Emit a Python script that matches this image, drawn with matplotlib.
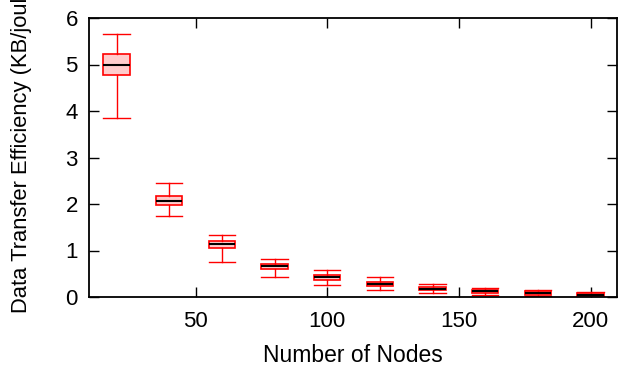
import matplotlib
matplotlib.use("Agg")
import matplotlib.pyplot as plt

# box plot stats
nodes = [20, 40, 60, 80, 100, 120, 140, 160, 180, 200]
whislo = [3.84, 1.74, 0.75, 0.44, 0.25, 0.15, 0.09, 0.04, 0.02, 0.01]
q1 = [4.77, 1.97, 1.05, 0.60, 0.36, 0.23, 0.14, 0.09, 0.04, 0.03]
med = [4.99, 2.07, 1.13, 0.66, 0.42, 0.27, 0.17, 0.12, 0.08, 0.05]
q3 = [5.22, 2.17, 1.20, 0.72, 0.47, 0.32, 0.22, 0.16, 0.12, 0.08]
whishi = [5.66, 2.45, 1.33, 0.81, 0.57, 0.42, 0.27, 0.20, 0.14, 0.11]

stats = []
for i in range(len(nodes)):
    stats.append({"whislo": whislo[i], "q1": q1[i], "med": med[i],
                  "q3": q3[i], "whishi": whishi[i], "fliers": []})

plt.rcParams["font.family"] = ["Liberation Sans", "DejaVu Sans"]

fig = plt.figure(figsize=(6.25, 3.66), dpi=100)
ax = fig.add_axes([89 / 625, 1 - 297 / 366, 528 / 625, 279 / 366])

ax.bxp(stats, positions=nodes, widths=10, patch_artist=True, showfliers=False,
       boxprops=dict(facecolor="#ffcccc", edgecolor="red", linewidth=1.2),
       medianprops=dict(color="black", linewidth=1.5),
       whiskerprops=dict(color="red", linewidth=1),
       capprops=dict(color="red", linewidth=1), capwidths=10)

ax.set_xlim(9.5, 210)
ax.set_ylim(0, 6)
ax.set_xticks([50, 100, 150, 200])
ax.set_xticklabels(["50", "100", "150", "200"])
ax.set_yticks([0, 1, 2, 3, 4, 5, 6])
ax.tick_params(direction="in", length=7, width=1, labelsize=16,
               top=True, right=True)
ax.tick_params(axis="x", pad=10)
ax.tick_params(axis="y", pad=8)
for s in ax.spines.values():
    s.set_linewidth(1.3)

ax.set_xlabel("Number of Nodes", fontsize=16.5, labelpad=9)
# y label is clipped at the top in the original too
fig.text(22 / 625, 1 - 313 / 366, "Data Transfer Efficiency (KB/joule)",
         rotation=90, ha="center", va="bottom", fontsize=15.8)

fig.savefig("out.png", dpi=100)
